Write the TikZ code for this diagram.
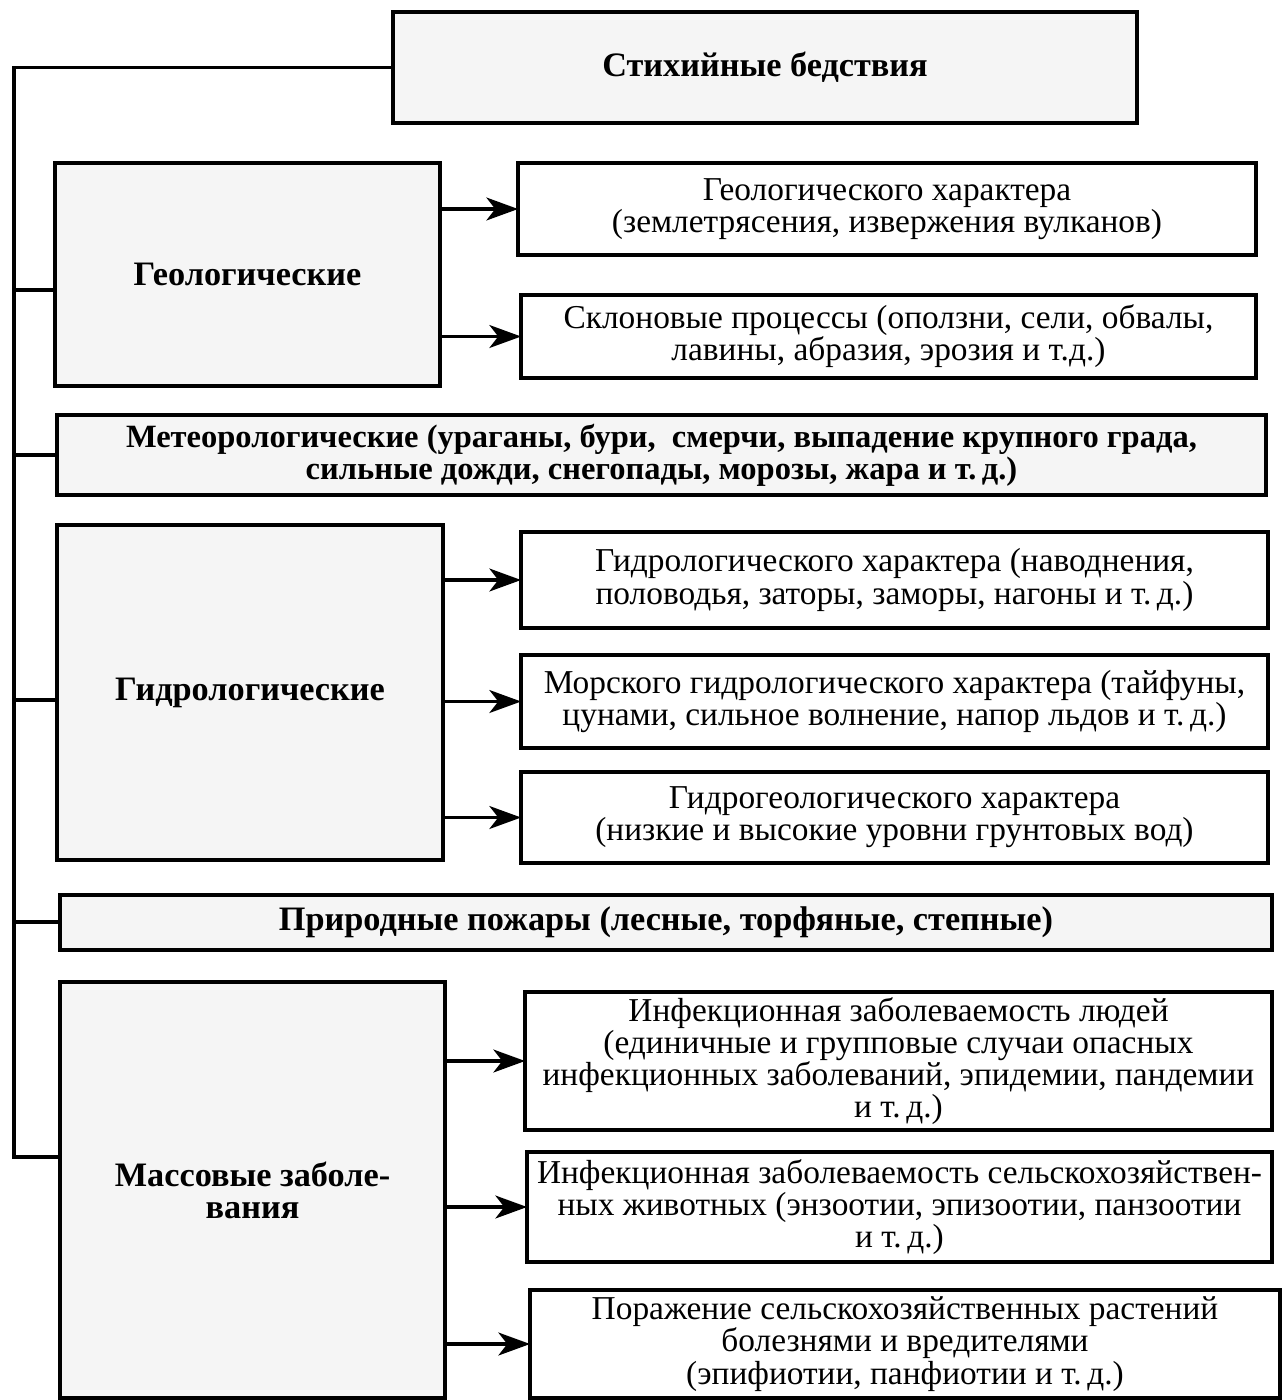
\documentclass[tikz,border=0pt]{standalone}
\usepackage{fontspec}
\setmainfont{Liberation Serif}
\usetikzlibrary{arrows.meta}
\begin{document}
\begin{tikzpicture}[x=0.02cm,y=-0.02cm,
  every node/.style={inner sep=0pt,outer sep=0pt},
  base/.style={draw=black,line width=2pt,align=center,
    font=\fontsize{19}{18.3}\selectfont},
  cat/.style={base,fill=black!4,font=\fontsize{19.5}{18.3}\selectfont\bfseries},
  leaf/.style={base,fill=white},
  conn/.style={line width=2pt,line cap=rect},
  arr/.style={line width=2pt,-{Stealth[length=18pt,width=13pt,inset=5pt]}}]
\useasboundingbox (0,0) rectangle (1288,1400);
\fill[white] (0,0) rectangle (1288,1400);

% top
\node[cat,minimum width=14.88cm,minimum height=2.22cm] (top) at (765,67.5) {Стихийные бедствия};

% geological
\node[cat,minimum width=7.7cm,minimum height=4.46cm] (geo) at (247.5,274.5) {Геологические};
\node[leaf,minimum width=14.76cm,minimum height=1.84cm] (g1) at (887,209)
  {Геологического характера\\(землетрясения, извержения вулканов)};
\node[leaf,minimum width=14.7cm,minimum height=1.66cm] (g2) at (888.5,336.5)
  {Склоновые процессы (оползни, сели, обвалы,\\лавины, абразия, эрозия и т.д.)};

% meteo
\node[cat,minimum width=24.18cm,minimum height=1.6cm,font=\fontsize{18.5}{18.3}\selectfont\bfseries] (met) at (661.5,455)
  {Метеорологические (ураганы, бури,\ \ смерчи, выпадение крупного града,\\сильные дожди, снегопады, морозы, жара и т.\,д.)};

% hydro
\node[cat,minimum width=7.72cm,minimum height=6.7cm] (hyd) at (250,692.5) {Гидрологические};
\node[leaf,minimum width=14.94cm,minimum height=1.92cm] (h1) at (894.5,580)
  {Гидрологического характера (наводнения,\\половодья, заторы, заморы, нагоны и т.\,д.)};
\node[leaf,minimum width=14.94cm,minimum height=1.86cm] (h2) at (894.5,701.5)
  {Морского гидрологического характера (тайфуны,\\цунами, сильное волнение, напор льдов и т.\,д.)};
\node[leaf,minimum width=14.94cm,minimum height=1.82cm] (h3) at (894.5,817.5)
  {Гидрогеологического характера\\(низкие и высокие уровни грунтовых вод)};

% fires
\node[cat,minimum width=24.24cm,minimum height=1.1cm] (fire) at (666,922.5)
  {Природные пожары (лесные, торфяные, степные)};

% mass diseases
\node[cat,minimum width=7.7cm,minimum height=8.32cm] (mass) at (252.5,1190)
  {Массовые заболе-\\вания};
\node[leaf,minimum width=14.94cm,minimum height=2.76cm] (m1) at (898.5,1061)
  {Инфекционная заболеваемость людей\\(единичные и групповые случаи опасных\\инфекционных заболеваний, эпидемии, пандемии\\и т.\,д.)};
\node[leaf,minimum width=14.9cm,minimum height=2.2cm] (m2) at (899.5,1207)
  {Инфекционная заболеваемость сельскохозяйствен-\\ных животных (энзоотии, эпизоотии, панзоотии\\и т.\,д.)};
\node[leaf,minimum width=15.0cm,minimum height=2.16cm] (m3) at (905,1344)
  {Поражение сельскохозяйственных растений\\болезнями и вредителями\\(эпифиотии, панфиотии и т.\,д.)};

% trunk
\coordinate (bgeo) at (14,290);
\coordinate (bmet) at (14,455);
\coordinate (bhyd) at (14,700);
\coordinate (bfire) at (14,922);
\coordinate (bmass) at (14,1157);
\draw[conn] (top.west) -- (14,0 |- top.west) -- (bmass);
\draw[conn] (bgeo) -- (bgeo -| geo.west);
\draw[conn] (bmet) -- (bmet -| met.west);
\draw[conn] (bhyd) -- (bhyd -| hyd.west);
\draw[conn] (bfire) -- (bfire -| fire.west);
\draw[conn] (bmass) -- (bmass -| mass.west);

% arrows
\draw[arr] (geo.east |- g1.west) -- (g1.west);
\draw[arr] (geo.east |- g2.west) -- (g2.west);
\draw[arr] (hyd.east |- h1.west) -- (h1.west);
\draw[arr] (hyd.east |- h2.west) -- (h2.west);
\draw[arr] (hyd.east |- h3.west) -- (h3.west);
\draw[arr] (mass.east |- m1.west) -- (m1.west);
\draw[arr] (mass.east |- m2.west) -- (m2.west);
\draw[arr] (mass.east |- m3.west) -- (m3.west);
\end{tikzpicture}
\end{document}
